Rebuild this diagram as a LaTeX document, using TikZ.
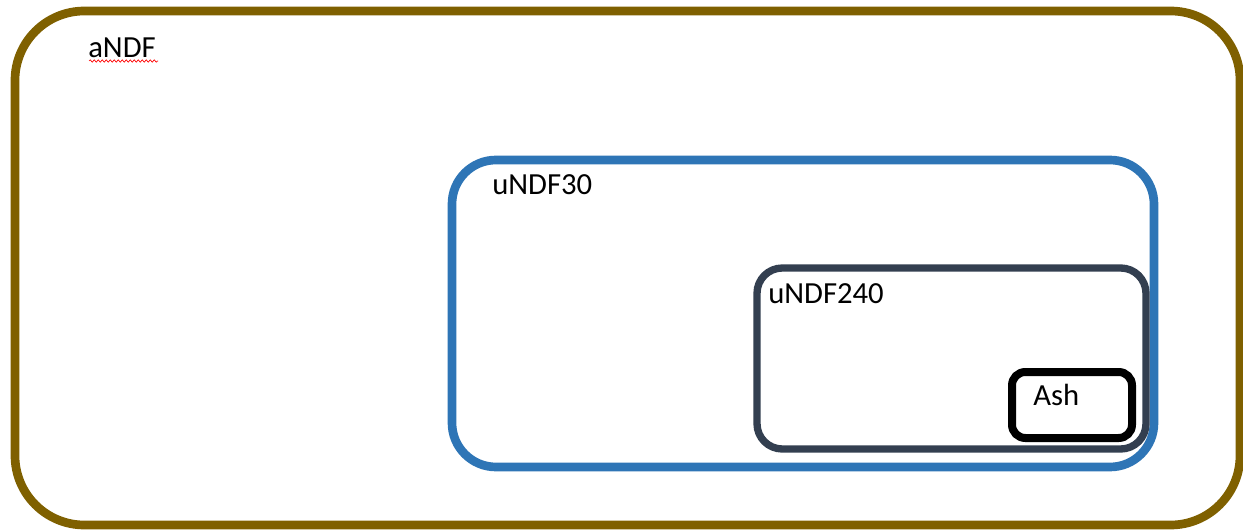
\documentclass[tikz,border=0pt]{standalone}
\usepackage{fontspec}
\setmainfont{Carlito}
\usetikzlibrary{decorations.pathmorphing}
\definecolor{olivebrown}{HTML}{7F6000}
\definecolor{steelblue}{HTML}{2E75B6}
\definecolor{slatedark}{HTML}{333F50}
\tikzset{
  setbox/.style={draw, rectangle, inner sep=0pt, outer sep=0pt, line width=6.5pt},
  setlabel/.style={anchor=base west, inner sep=0pt, font=\fontsize{23}{27}\selectfont},
  squiggle/.style={red, line width=0.5pt, decorate,
    decoration={snake, amplitude=0.9pt, segment length=3pt}}
}
\begin{document}
\begin{tikzpicture}[x=0.75pt, y=-0.75pt]
  \useasboundingbox (0,0) rectangle (1243,531);
  % nested sets
  \node[setbox, olivebrown, rounded corners=52pt,
        minimum width=918.75pt, minimum height=385.5pt] (andf) at (627.5,268) {};
  \node[setbox, steelblue, rounded corners=33pt,
        minimum width=526.5pt, minimum height=230.25pt] (undf30) at (803,313.5) {};
  \node[setbox, slatedark, line width=5.5pt, rounded corners=19pt,
        minimum width=291.75pt, minimum height=135.75pt] (undf240) at (951.5,358.5) {};
  \node[setbox, black, line width=6pt, rounded corners=10pt,
        minimum width=90pt, minimum height=49.5pt] (ash) at (1072,405) {};
  % labels
  \node[setlabel] (andflabel) at (88,58) {aNDF};
  \node[setlabel] (undf30label) at (492,195) {uNDF30};
  \node[setlabel] (undf240label) at (768,303) {uNDF240};
  \node[setlabel] (ashlabel) at (1033,405) {Ash};
  % spell-check mark under the first label
  \coordinate (sqa) at (89,61);
  \coordinate (sqb) at (158,61);
  \draw[squiggle] (sqa) -- (sqb);
\end{tikzpicture}
\end{document}
